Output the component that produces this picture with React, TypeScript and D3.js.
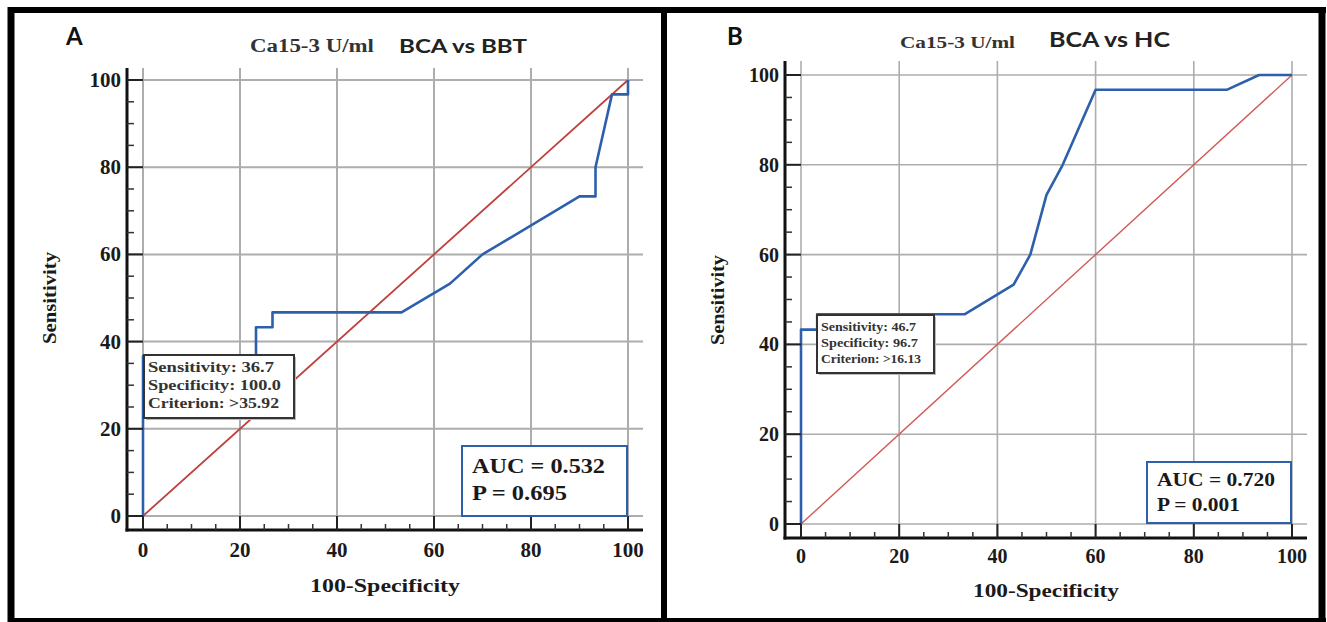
import React from "react";
import * as d3 from "d3";

// ---- data ----
const tickValues = [0, 20, 40, 60, 80, 100];
const minorTickValues = [5, 10, 15, 25, 30, 35, 45, 50, 55, 65, 70, 75, 85, 90, 95];

const rocA_fpr = [0, 0, 23.3, 23.3, 26.7, 26.7, 53.3, 63.3, 70, 90, 93.3, 93.3, 96.7, 100, 100];
const rocA_sens = [0, 36.7, 36.7, 43.3, 43.3, 46.7, 46.7, 53.3, 60, 73.3, 73.3, 80, 96.7, 96.7, 100];

const rocB_fpr = [0, 0, 3.3, 3.3, 33.3, 43.3, 46.7, 50, 53.3, 60, 86.7, 93.3, 100];
const rocB_sens = [0, 43.3, 43.3, 46.7, 46.7, 53.3, 60, 73.3, 80, 96.7, 96.7, 100, 100];

const diagonal = [0, 100];

const infoA = ["Sensitivity: 36.7", "Specificity: 100.0", "Criterion: >35.92"];
const infoB = ["Sensitivity: 46.7", "Specificity: 96.7", "Criterion: >16.13"];
const aucA = ["AUC = 0.532", "P = 0.695"];
const aucB = ["AUC = 0.720", "P = 0.001"];

type PanelProps = {
  letter: string;
  fpr: number[];
  sens: number[];
  info: string[];
  auc: string[];
  comparison: string;
  g: any;
};

const serif = "'Liberation Serif', 'DejaVu Serif', serif";
const sans = "Lato, 'Open Sans', 'Liberation Sans', sans-serif";

function Panel({ letter, fpr, sens, info, auc, comparison, g }: PanelProps) {
  const x = d3.scaleLinear().domain([0, 100]).range([g.x0, g.x100]);
  const y = d3.scaleLinear().domain([0, 100]).range([g.y0, g.y100]);
  const pts = fpr.map((f, i) => [f, sens[i]] as [number, number]);
  const line = d3.line<[number, number]>().x((d) => x(d[0])).y((d) => y(d[1]));
  const diagPts = diagonal.map((d) => [d, d] as [number, number]);
  const grid = "#adadad";
  const blue = "#2d60ab";

  return (
    <g>
      {/* gridlines */}
      {tickValues.map((t) => (
        <line key={"gx" + t} x1={x(t)} x2={x(t)} y1={g.top} y2={g.axisY} stroke={grid} strokeWidth={g.gridW} />
      ))}
      {tickValues.map((t) => (
        <line key={"gy" + t} x1={g.axisX} x2={g.right} y1={y(t)} y2={y(t)} stroke={grid} strokeWidth={g.gridW} />
      ))}
      {/* diagonal */}
      <path d={line(diagPts) || ""} fill="none" stroke={g.diagColor} strokeWidth={g.diagW} />
      {/* ROC curve */}
      <path d={line(pts) || ""} fill="none" stroke={blue} strokeWidth={2.6} strokeLinejoin="round" />
      {/* axes */}
      <line x1={g.axisX} x2={g.axisX} y1={g.top} y2={g.axisY + 1.5} stroke="#111" strokeWidth={3} />
      <line x1={g.axisX - 1.5} x2={g.right} y1={g.axisY} y2={g.axisY} stroke="#111" strokeWidth={3} />
      {/* ticks */}
      {tickValues.map((t) => (
        <line key={"tx" + t} x1={x(t)} x2={x(t)} y1={g.axisY} y2={y(0)} stroke="#222" strokeWidth={2} />
      ))}
      {tickValues.map((t) => (
        <line key={"ty" + t} x1={g.axisX} x2={x(0)} y1={y(t)} y2={y(t)} stroke="#222" strokeWidth={2} />
      ))}
      {minorTickValues.map((t) => (
        <line key={"mx" + t} x1={x(t)} x2={x(t)} y1={g.axisY} y2={g.axisY - 6} stroke="#333" strokeWidth={1.5} />
      ))}
      {minorTickValues.map((t) => (
        <line key={"my" + t} x1={g.axisX} x2={g.axisX + 7} y1={y(t)} y2={y(t)} stroke="#333" strokeWidth={1.5} />
      ))}
      {/* tick labels */}
      {tickValues.map((t) => (
        <text key={"lx" + t} x={x(t)} y={g.xLabY} textAnchor="middle" dominantBaseline="central"
          fontFamily={serif} fontWeight="bold" fontSize={g.tickFont} fill="#1a1a1a">{t}</text>
      ))}
      {tickValues.map((t) => (
        <text key={"ly" + t} x={g.yLabRight} y={y(t)} textAnchor="end" dominantBaseline="central"
          fontFamily={serif} fontWeight="bold" fontSize={g.tickFont} fill="#1a1a1a">{t}</text>
      ))}
      {/* axis titles */}
      <text x={g.xlabX} y={g.xlabY} textAnchor="middle" dominantBaseline="central" fontFamily={serif}
        fontWeight="bold" fontSize={19} fill="#1a1a1a" textLength={g.xlabLen} lengthAdjust="spacingAndGlyphs">100-Specificity</text>
      <text transform={`translate(${g.ylabX},${g.ylabY}) rotate(-90)`} textAnchor="middle" dominantBaseline="central"
        fontFamily={serif} fontWeight="bold" fontSize={18} fill="#1a1a1a" textLength={g.ylabLen} lengthAdjust="spacingAndGlyphs">Sensitivity</text>
      {/* titles */}
      <text x={g.letterX} y={g.letterY} dominantBaseline="central" fontFamily={sans} fontWeight="bold" fontSize={24} fill="#111">{letter}</text>
      <text x={g.t1x} y={g.t1y} dominantBaseline="central" fontFamily={serif} fontWeight="bold" fontSize={g.t1font} fill="#333"
        textLength={g.t1len} lengthAdjust="spacingAndGlyphs">Ca15-3 U/ml</text>
      <text x={g.t2x} y={g.t2y} dominantBaseline="central" fontFamily={sans} fontWeight="bold" fontSize={g.t2font} fill="#222"
        textLength={g.t2len} lengthAdjust="spacingAndGlyphs">{comparison}</text>
      {/* info box */}
      <rect x={g.infoX + 2} y={g.infoY + 2} width={g.infoW} height={g.infoH} fill="#bbb" />
      <rect x={g.infoX} y={g.infoY} width={g.infoW} height={g.infoH} fill="#fff" stroke="#333" strokeWidth={2} />
      {info.map((s: string, i: number) => (
        <text key={"i" + i} x={g.infoX + 4} y={g.infoY + g.infoLine * (i + 0.72)} dominantBaseline="central"
          fontFamily={serif} fontWeight="bold" fontSize={g.infoFont} fill="#333"
          textLength={g.infoLen[i]} lengthAdjust="spacingAndGlyphs">{s}</text>
      ))}
      {/* AUC box */}
      <rect x={g.aucX} y={g.aucY} width={g.aucW} height={g.aucH} fill="#fff" stroke={blue} strokeWidth={2} />
      {auc.map((s: string, i: number) => (
        <text key={"a" + i} x={g.aucX + 10} y={g.aucY + g.aucLine * (i + 0.75)} dominantBaseline="central"
          fontFamily={serif} fontWeight="bold" fontSize={g.aucFont} fill="#1a1a1a"
          textLength={g.aucLen[i]} lengthAdjust="spacingAndGlyphs">{s}</text>
      ))}
    </g>
  );
}

export default function App() {
  const gA = {
    x0: 143, x100: 628, y0: 516, y100: 80,
    axisX: 127, axisY: 530, top: 68, right: 643,
    tickFont: 21, gridW: 2, diagColor: "#c0403c", diagW: 1.8,
    letterX: 66, letterY: 35,
    t1x: 250, t1y: 46, t1len: 124, t1font: 18,
    t2x: 399, t2y: 45, t2len: 128, t2font: 19,
    xlabX: 385, xlabY: 585, xlabLen: 150,
    ylabX: 50, ylabY: 298, ylabLen: 92,
    infoX: 144, infoY: 355, infoW: 150, infoH: 63, infoFont: 14, infoLine: 18, infoLen: [126, 133, 131],
    aucX: 462, aucY: 446, aucW: 165, aucH: 70, aucFont: 21, aucLine: 27, aucLen: [133, 95],
    xLabY: 550, yLabRight: 121,
  };
  const gB = {
    x0: 801, x100: 1292, y0: 524, y100: 75,
    axisX: 785, axisY: 538, top: 61, right: 1307,
    tickFont: 20, gridW: 1.6, diagColor: "#d25a55", diagW: 1.4,
    letterX: 727, letterY: 35,
    t1x: 900, t1y: 42, t1len: 115, t1font: 17,
    t2x: 1049, t2y: 39, t2len: 121, t2font: 20,
    xlabX: 1046, xlabY: 590, xlabLen: 146,
    ylabX: 718, ylabY: 300, ylabLen: 90,
    infoX: 817, infoY: 315, infoW: 117, infoH: 58, infoFont: 12, infoLine: 16, infoLen: [95, 97, 100],
    aucX: 1147, aucY: 462, aucW: 144, aucH: 61, aucFont: 18, aucLine: 24.5, aucLen: [118, 83],
    xLabY: 556, yLabRight: 779,
  };
  return (
    <div style={{ position: "absolute", left: 0, top: 0 }}>
      <svg width={1327} height={622} style={{ display: "block", background: "#fff" }}>
        <rect x={0} y={0} width={1327} height={622} fill="#fff" />
        <Panel letter="A" fpr={rocA_fpr} sens={rocA_sens} info={infoA} auc={aucA} comparison="BCA vs BBT" g={gA} />
        <Panel letter="B" fpr={rocB_fpr} sens={rocB_sens} info={infoB} auc={aucB} comparison="BCA vs HC" g={gB} />
        {/* frame */}
        <line x1={11} x2={11} y1={7} y2={622} stroke="#000" strokeWidth={7} />
        <line x1={8} x2={1326} y1={10} y2={10} stroke="#000" strokeWidth={6} />
        <line x1={1322} x2={1322} y1={7} y2={622} stroke="#000" strokeWidth={7} />
        <line x1={8} x2={1326} y1={620} y2={620} stroke="#000" strokeWidth={4} />
        <line x1={664} x2={664} y1={7} y2={622} stroke="#000" strokeWidth={6} />
      </svg>
    </div>
  );
}
